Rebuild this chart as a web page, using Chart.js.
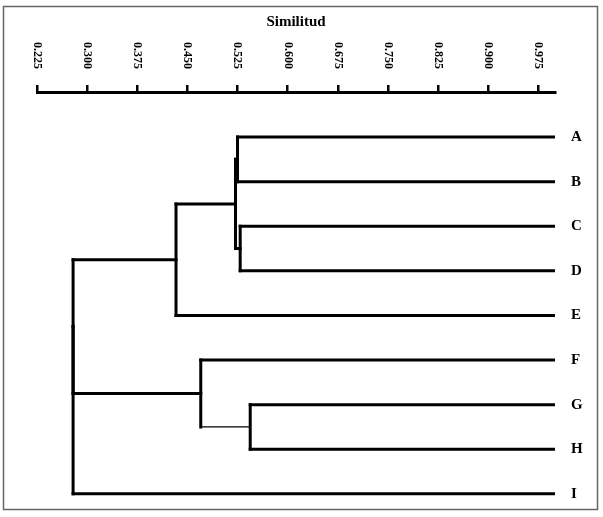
<!DOCTYPE html>
<html>
<head>
<meta charset="utf-8">
<script src="https://cdn.jsdelivr.net/npm/chart.js@4.4.1/dist/chart.umd.min.js"></script>
<style>
  html, body { margin: 0; padding: 0; background: #fff; }
</style>
</head>
<body>
<canvas id="dendroChart" width="603" height="517"></canvas>
<script>
var leaves = ['A', 'B', 'C', 'D', 'E', 'F', 'G', 'H', 'I'];
var tickValues = [0.225, 0.300, 0.375, 0.450, 0.525, 0.600, 0.675, 0.750, 0.825, 0.900, 0.975];

// cluster joins
var mergeName = ['AB', 'CD', 'ABCD', 'ABCDE', 'GH', 'FGH', 'ABCDEFGH', 'ALL'];
var mergeLeft = ['A', 'C', 'AB', 'ABCD', 'G', 'F', 'ABCDE', 'ABCDEFGH'];
var mergeRight = ['B', 'D', 'CD', 'E', 'H', 'GH', 'FGH', 'I'];
var mergeSim = [0.525, 0.529, 0.522, 0.433, 0.544, 0.470, 0.279, 0.279];

var leafSim = 1.0;

var nodes = {};
leaves.forEach(function (name, i) {
    nodes[name] = { x: leafSim, y: i + 1 };
});

var datasets = [];
function addSegment(x1, y1, x2, y2, width) {
    datasets.push({
        data: [{ x: x1, y: y1 }, { x: x2, y: y2 }],
        showLine: true,
        borderColor: '#000',
        borderWidth: width,
        pointRadius: 0,
        borderCapStyle: 'square'
    });
}

for (var i = 0; i < mergeName.length; i++) {
    var a = nodes[mergeLeft[i]];
    var b = nodes[mergeRight[i]];
    var s = mergeSim[i];
    addSegment(s, a.y, s, b.y, 3);
    addSegment(s, a.y, a.x, a.y, 3);
    // the link from F's join down to G-H is drawn thin in the original
    addSegment(s, b.y, b.x, b.y, mergeName[i] === 'FGH' ? 1.2 : 3);
    nodes[mergeName[i]] = { x: s, y: (a.y + b.y) / 2 };
}

var framePlugin = {
    id: 'frame',
    beforeDraw: function (chart) {
        var ctx = chart.ctx;
        ctx.save();
        ctx.fillStyle = '#fff';
        ctx.fillRect(0, 0, chart.width, chart.height);
        ctx.strokeStyle = '#666';
        ctx.lineWidth = 1.5;
        ctx.strokeRect(3.5, 6.5, 594, 503);
        ctx.restore();
    },
    afterDraw: function (chart) {
        var xs = chart.scales.x;
        var ctx = chart.ctx;
        ctx.save();
        ctx.font = 'bold 12px "Liberation Serif"';
        ctx.fillStyle = '#000';
        ctx.textAlign = 'right';
        ctx.textBaseline = 'middle';
        tickValues.forEach(function (v) {
            ctx.save();
            ctx.translate(xs.getPixelForValue(v), xs.bottom - 23);
            ctx.rotate(Math.PI / 2);
            ctx.fillText(v.toFixed(3), 0, 0);
            ctx.restore();
        });
        ctx.restore();
    }
};

var config = {
    type: 'scatter',
    data: { datasets: datasets },
    options: {
        responsive: false,
        animation: false,
        devicePixelRatio: 1,
        layout: { padding: { top: 8, left: 37, right: 0, bottom: 8 } },
        plugins: {
            legend: { display: false },
            tooltip: { enabled: false }
        },
        scales: {
            x: {
                type: 'linear',
                position: 'top',
                min: 0.225,
                max: 1.0,
                afterBuildTicks: function (scale) {
                    scale.ticks = tickValues.map(function (v) { return { value: v }; });
                },
                ticks: { display: false },
                grid: {
                    drawOnChartArea: false,
                    drawTicks: true,
                    tickLength: 7,
                    lineWidth: 2.5,
                    color: '#000'
                },
                border: { display: true, width: 3, color: '#000' },
                title: {
                    display: true,
                    text: 'Similitud',
                    color: '#000',
                    font: { family: 'Liberation Serif', weight: 'bold', size: 15 },
                    padding: { top: 5, bottom: 54 }
                }
            },
            y: {
                type: 'linear',
                position: 'right',
                reverse: true,
                min: -0.01,
                max: 9.34,
                afterBuildTicks: function (scale) {
                    scale.ticks = leaves.map(function (l, i) { return { value: i + 1 }; });
                },
                afterFit: function (scale) {
                    scale.width = 48;
                    scale.paddingTop = 0;
                    scale.paddingBottom = 0;
                },
                ticks: {
                    autoSkip: false,
                    padding: 16,
                    color: '#000',
                    font: { family: 'Liberation Serif', weight: 'bold', size: 15 },
                    callback: function (v) { return leaves[Math.round(v) - 1]; }
                },
                grid: { display: false, drawTicks: false },
                border: { display: false }
            }
        }
    },
    plugins: [framePlugin]
};

var dendroChart = new Chart(document.getElementById('dendroChart'), config);
</script>
</body>
</html>
